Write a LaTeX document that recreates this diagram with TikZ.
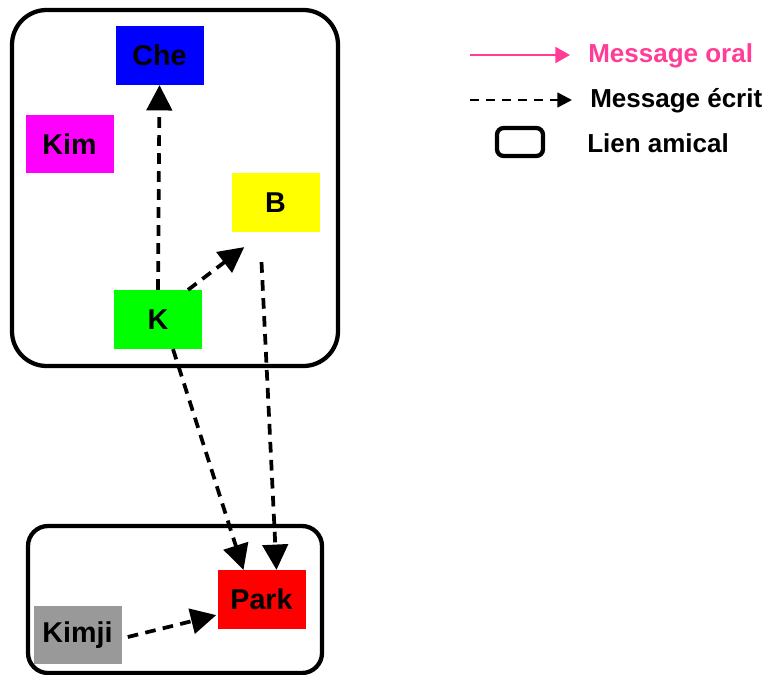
\documentclass[tikz,border=0pt]{standalone}
\usepackage{fontspec}
\setmainfont{Liberation Sans}
\usepackage{xcolor}
\usetikzlibrary{arrows.meta,calc}
\definecolor{oralpink}{RGB}{255,60,150}
\definecolor{kimjigray}{RGB}{153,153,153}
\definecolor{kimpink}{RGB}{255,0,255}
\definecolor{chEblue}{RGB}{0,0,255}
\definecolor{kgreen}{RGB}{0,255,0}
\definecolor{byellow}{RGB}{255,255,0}
\definecolor{parkred}{RGB}{255,0,0}

\begin{document}
\begin{tikzpicture}[
    x=0.75pt, y=-0.75pt,
    font=\fontsize{19.5}{22}\selectfont\bfseries,
    person/.style={minimum width=66pt, minimum height=44pt, inner sep=0pt, text centered, font=\fontsize{21.5}{24}\selectfont\bfseries},
    written/.style={line width=2.8pt, dash pattern=on 8pt off 5.5pt, -{Triangle[length=19pt, width=19pt]}},
    legwritten/.style={line width=2pt, dash pattern=on 7pt off 5pt, -{Triangle[length=11pt, width=11pt]}},
    legoral/.style={oralpink, line width=1.6pt, -{Triangle[length=11pt, width=12pt]}},
    friend/.style={line width=3.2pt}
]
\useasboundingbox (0,0) rectangle (768,675);

% groups of friends
\draw[friend, rounded corners=26pt] (12,10) rectangle (338,366);
\draw[friend, rounded corners=15pt] (28,526) rectangle (322,673);

% people
\node[person, fill=chEblue] (che) at (159.5,55.5) {Che};
\node[person, fill=kimpink] (kim) at (69.5,144) {Kim};
\node[person, fill=byellow] (b) at (275.5,202.5) {B};
\node[person, fill=kgreen] (k) at (158,319.5) {K};
\node[person, fill=parkred] (park) at (261.5,599.5) {Park};
\node[person, fill=kimjigray] (kimji) at (77.5,635) {Kimji};

% written messages
\draw[written] (k.north) -- (che.south);
\draw[written] ($(k.north)+(30,0)$) -- ($(b.south west)+(13,15)$);
\draw[written] ($(b.south)+(-14,30)$) -- ($(park.north)+(15,0)$);
\draw[written] ($(k.south)+(15,0)$) -- ($(park.north)+(-18,0)$);
\draw[written] ($(kimji.east)+(6,2)$) -- ($(park.south west)+(-1,-14)$);

% legend
\coordinate (oralA) at (470,55);
\coordinate (oralB) at (570,55);
\coordinate (writA) at (470,100);
\coordinate (writB) at (572,100);
\draw[legoral] (oralA) -- (oralB);
\node[anchor=west, text=oralpink, inner sep=0pt] (oraltxt) at (588,56) {Message oral};
\draw[legwritten] (writA) -- (writB);
\node[anchor=west, inner sep=0pt] (writtxt) at (590,101) {Message écrit};
\draw[friend, rounded corners=5pt] (497,128) rectangle (543,156);
\node[anchor=west, inner sep=0pt] (friendtxt) at (587,143) {Lien amical};

\end{tikzpicture}
\end{document}
